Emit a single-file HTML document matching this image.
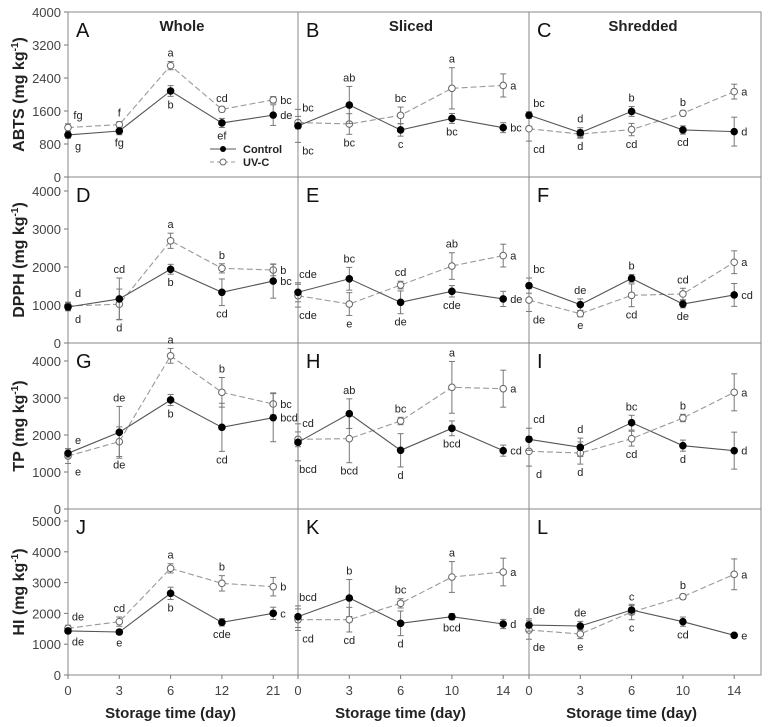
<!DOCTYPE html>
<html><head><meta charset="utf-8"><style>
body{margin:0;background:#fff}
svg{display:block;font-family:"Liberation Sans",Arial,sans-serif}
</style></head><body>
<svg id="c" width="769" height="727"></svg>
<script>
const panelNames=["A","B","C","D","E","F","G","H","I","J","K","L"];
const colTitles=["Whole","Sliced","Shredded"];
const rowTitles=["ABTS","DPPH","TP","HI"];
const xCatsWhole=["0","3","6","12","21"];
const xCatsCut=["0","3","6","10","14"];
const rowMax=[4000,4368,4486,5390];
const rowTicks=[[0,800,1600,2400,3200,4000],[0,1000,2000,3000,4000],[0,1000,2000,3000,4000],[0,1000,2000,3000,4000,5000]];
const controlVals=[[1020,1115,2085,1310,1500],[1240,1745,1140,1420,1195],[1500,1075,1590,1140,1100],
[947,1160,1940,1335,1630],[1335,1690,1070,1360,1160],[1510,1010,1700,1025,1265],
[1505,2073,2946,2207,2468],[1802,2577,1586,2180,1577],[1883,1667,2333,1712,1577],
[1430,1396,2652,1710,2002],[1894,2500,1678,1894,1656],[1623,1591,2110,1732,1288]];
const uvVals=[[1200,1270,2700,1640,1870],[1320,1285,1495,2150,2220],[1170,1040,1150,1545,2070],
[975,1020,2690,1965,1920],[1245,1025,1525,2025,2300],[1130,770,1255,1290,2125],
[1432,1820,4140,3153,2838],[1883,1901,2378,3288,3252],[1559,1513,1901,2459,3153],
[1515,1732,3463,2976,2868],[1797,1797,2327,3182,3344],[1461,1331,2045,2543,3269]];
const controlErr=[[80,90,130,110,250],[400,450,150,120,120],[80,120,120,100,350],
[100,550,130,350,450],[250,300,300,150,200],[200,150,100,100,300],
[120,700,150,650,650],[500,400,450,200,150],[300,250,200,150,500],
[80,80,200,120,200],[350,600,400,100,150],[200,150,150,150,50]];
const uvErr=[[90,70,100,60,80],[150,250,200,500,280],[300,100,150,60,180],
[100,400,200,120,150],[300,300,100,350,300],[300,80,300,150,300],
[200,400,200,400,300],[200,650,100,700,500],[400,300,200,100,500],
[100,150,150,250,300],[350,400,150,500,450],[300,150,250,80,500]];
const controlLetters=[["g","fg","b","ef","de"],["bc","ab","c","bc","bc"],["bc","d","b","cd","d"],
["d","cd","b","cd","bc"],["cde","bc","de","cde","de"],["bc","de","b","de","cd"],
["e","de","b","cd","bcd"],["bcd","ab","d","bcd","cd"],["cd","d","bc","d","d"],
["de","e","b","cde","c"],["bcd","b","d","bcd","d"],["de","de","c","cd","e"]];
const uvLetters=[["fg","f","a","cd","bc"],["bc","bc","bc","a","a"],["cd","d","cd","b","a"],
["d","d","a","b","b"],["cde","e","cd","ab","a"],["de","e","cd","cd","a"],
["e","de","a","b","bc"],["cd","bcd","bc","a","a"],["d","d","cd","b","a"],
["de","cd","a","b","b"],["cd","cd","bc","a","a"],["de","e","c","b","a"]];

const svg=document.getElementById('c');const NS="http://www.w3.org/2000/svg";
function mk(t,a,p){const e=document.createElementNS(NS,t);for(const k in a)e.setAttribute(k,a[k]);(p||svg).appendChild(e);return e;}
const colX=[68,298,529,761];const rowY=[12,177,343,509,675];const step=51.3;
const titleX=[182,411,643];
function xs(c,i){return colX[c]+i*step;}
function ys(r,v){return rowY[r+1]-v*(rowY[r+1]-rowY[r])/rowMax[r];}
for(let r=0;r<4;r++)for(let c=0;c<3;c++){
 const g=mk('g',{});
 
 
 mk('rect',{x:colX[c],y:rowY[r],width:colX[c+1]-colX[c],height:rowY[r+1]-rowY[r],fill:'none',stroke:'#888','stroke-width':1},g);
 const t=mk('text',{x:colX[c]+8,y:rowY[r]+25,'font-size':20,fill:'#111'},g);t.textContent=panelNames[r*3+c];
 
}
colTitles.forEach((s,c)=>{const t=mk('text',{x:titleX[c],y:31,'font-size':15,'font-weight':'bold','text-anchor':'middle',fill:'#222'});t.textContent=s;
 });
for(let r=0;r<4;r++){
 rowTicks[r].forEach(v=>{const y=ys(r,v);mk('line',{x1:64,x2:68,y1:y,y2:y,stroke:'#777'});
  const t=mk('text',{x:61,y:y+5,'font-size':13,'text-anchor':'end',fill:'#444'});t.textContent=v;
  });
 const cy=(rowY[r]+rowY[r+1])/2;
 const t=mk('text',{transform:`translate(24,${cy}) rotate(-90)`,'font-size':16,'font-weight':'bold','text-anchor':'middle',fill:'#222'});
 t.innerHTML=rowTitles[r]+' (mg kg<tspan dy="-6" font-size="10">-1</tspan><tspan dy="6">)</tspan>';
 
}
for(let c=0;c<3;c++){
 const cats=c==0?xCatsWhole:xCatsCut;
 cats.forEach((s,i)=>{const x=xs(c,i);mk('line',{x1:x,x2:x,y1:675,y2:679,stroke:'#777'});
  const t=mk('text',{x:x,y:695,'font-size':13,'text-anchor':'middle',fill:'#444'});t.textContent=s;
  });
 const t=mk('text',{x:(xs(c,0)+xs(c,4))/2,y:718,'font-size':15,'font-weight':'bold','text-anchor':'middle',fill:'#222'});t.textContent='Storage time (day)';
 
}
for(let p=0;p<12;p++){
 const r=Math.floor(p/3),c=p%3;
 const series=[{v:uvVals[p],e:uvErr[p],l:uvLetters[p],o:controlVals[p],ctl:false},{v:controlVals[p],e:controlErr[p],l:controlLetters[p],o:uvVals[p],ctl:true}];
 series.forEach(s=>{
  const g=mk('g',{});
  
  
  const pts=s.v.map((v,i)=>xs(c,i)+','+ys(r,v)).join(' ');
  mk('polyline',{points:pts,fill:'none',stroke:s.ctl?'#555':'#999','stroke-width':1.1,'stroke-dasharray':s.ctl?'':'6,3'},g);
  s.v.forEach((v,i)=>{
   const x=xs(c,i),y=ys(r,v),y1=ys(r,v+s.e[i]),y2=ys(r,Math.max(0,v-s.e[i]));
   mk('line',{x1:x,x2:x,y1:y1,y2:y2,stroke:'#777'},g);
   mk('line',{x1:x-3,x2:x+3,y1:y1,y2:y1,stroke:'#777'},g);
   mk('line',{x1:x-3,x2:x+3,y1:y2,y2:y2,stroke:'#777'},g);
   const m=mk('circle',{cx:x,cy:y,r:3.3,fill:s.ctl?'#000':'#fff',stroke:s.ctl?'#000':'#666','stroke-width':1},g);
   
   let tx,ty,anc='middle';
   if(i==4){tx=x+7;ty=y+4;anc='start';}
   else{const up=v>=s.o[i];tx=x+(i==0?10:0);ty=up?ys(r,v+s.e[i])-5:ys(r,Math.max(0,v-s.e[i]))+12;}
   const t=mk('text',{x:tx,y:ty,'font-size':11,'text-anchor':anc,fill:'#222'},g);t.textContent=s.l[i];
   
  });
 });
}
const lg=mk('g',{});
mk('line',{x1:210,x2:236,y1:149,y2:149,stroke:'#555'},lg);mk('circle',{cx:223,cy:149,r:3,fill:'#000'},lg);
let lt=mk('text',{x:243,y:153,'font-size':11,'font-weight':'bold',fill:'#222'},lg);lt.textContent='Control';
mk('line',{x1:210,x2:236,y1:162,y2:162,stroke:'#999','stroke-dasharray':'4,3'},lg);mk('circle',{cx:223,cy:162,r:3,fill:'#fff',stroke:'#666'},lg);
lt=mk('text',{x:243,y:166,'font-size':11,'font-weight':'bold',fill:'#222'},lg);lt.textContent='UV-C';
</script>
</body></html>
